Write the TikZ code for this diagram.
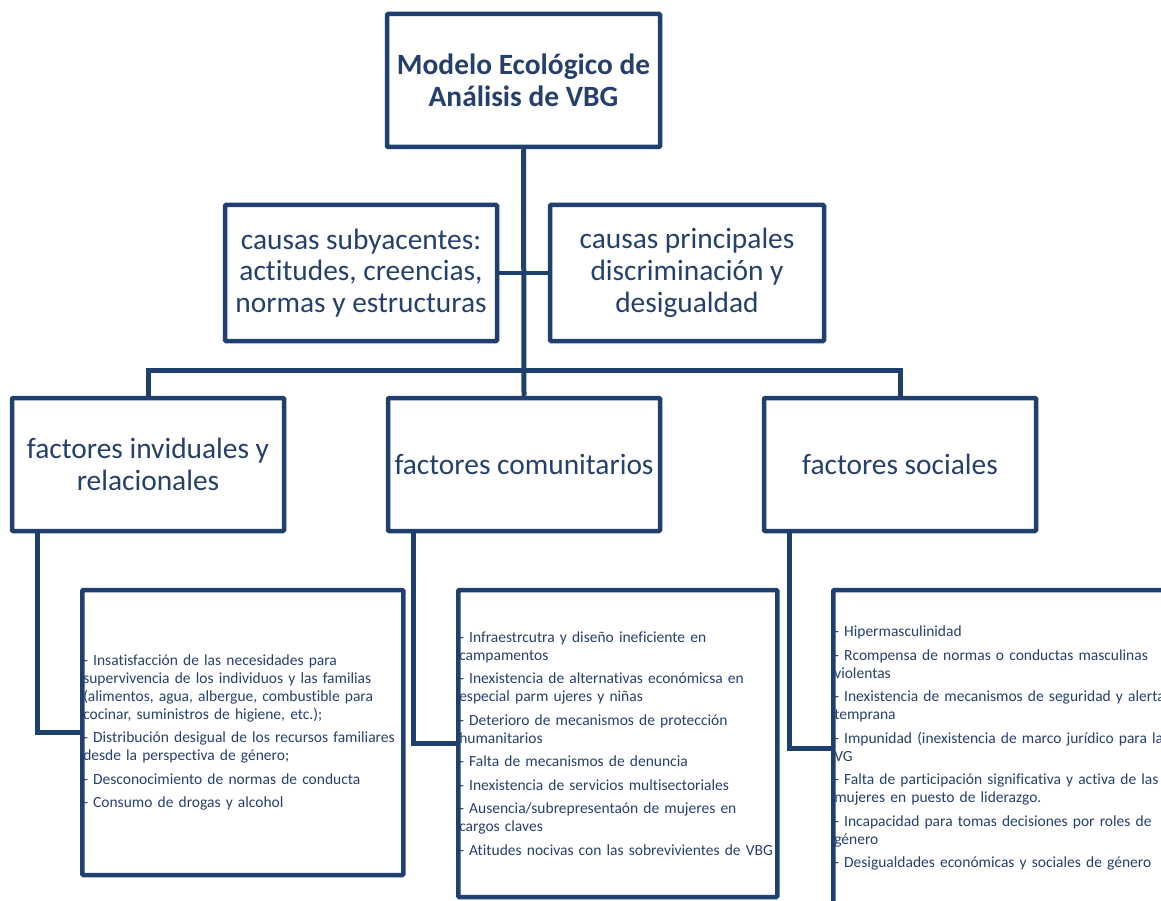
\documentclass[tikz,border=0pt]{standalone}
\usepackage{fontspec}
\setmainfont{Carlito}[Ligatures=NoCommon]
\usepackage{tikz}
\usetikzlibrary{positioning,calc}
\definecolor{vbglinea}{RGB}{31,63,110}
\definecolor{vbgtexto}{RGB}{38,64,108}

\begin{document}
\begin{tikzpicture}[x=1pt,y=-1pt,
  caja/.style={draw=vbglinea,line width=4.5pt,rounded corners=1pt,fill=white,text=vbgtexto,
    align=center,inner sep=0pt,font=\fontsize{29.4}{31.8}\selectfont},
  hoja/.style={draw=vbglinea,line width=4.5pt,rounded corners=1pt,fill=white,text=vbgtexto,
    align=left,anchor=west,inner xsep=1pt,inner ysep=0pt,font=\fontsize{15.5}{18}\selectfont},
  enlace/.style={draw=vbglinea,line width=5pt}]
\clip (0,0) rectangle (1161,901);
\fill[white] (0,0) rectangle (1161,901);

\node[caja,minimum width=273pt,minimum height=133pt,font=\bfseries\fontsize{29.4}{31.8}\selectfont] (modelo) at (523.5,80.5)
  {Modelo Ecológico de\\Análisis de VBG};
\node[caja,minimum width=272pt,minimum height=136pt] (subya) at (361,273)
  {causas subyacentes:\\actitudes, creencias,\\normas y estructuras};
\node[caja,minimum width=274pt,minimum height=136pt] (princ) at (687,273)
  {causas principales\\discriminación y\\desigualdad};

\node[caja,minimum width=272pt,minimum height=133pt] (indiv) at (148,464.5)
  {factores inviduales y\\relacionales};
\node[caja,minimum width=272pt,minimum height=133pt] (comun) at (524,464.5)
  {factores comunitarios};
\node[caja,minimum width=272pt,minimum height=133pt] (socia) at (900,464.5)
  {factores sociales};

\node[hoja,text width=319pt,minimum height=285pt] (hojaindiv) at (80,732.5)
  {- Insatisfacción de las necesidades para\\supervivencia de los individuos y las familias\\(alimentos, agua, albergue, combustible para\\cocinar, suministros de higiene, etc.);\\[5.5pt]
   - Distribución desigual de los recursos familiares\\desde la perspectiva de género;\\[5.5pt]
   - Desconocimiento de normas de conducta\\[5.5pt]
   - Consumo de drogas y alcohol};
\node[hoja,text width=317pt,minimum height=307pt] (hojacomun) at (456,743.5)
  {- Infraestrcutra y diseño ineficiente en\\campamentos\\[5.5pt]
   - Inexistencia de alternativas económicsa en\\especial parm ujeres y niñas\\[5.5pt]
   - Deterioro de mecanismos de protección\\humanitarios\\[5.5pt]
   - Falta de mecanismos de denuncia\\[5.5pt]
   - Inexistencia de servicios multisectoriales\\[5.5pt]
   - Ausencia/subrepresentaón de mujeres en\\cargos claves\\[5.5pt]
   - Atitudes nocivas con las sobrevivientes de VBG};
\node[hoja,text width=357pt,minimum height=316pt] (hojasocia) at (831,748)
  {- Hipermasculinidad\\[5.5pt]
   - Rcompensa de normas o conductas masculinas\\violentas\\[5.5pt]
   - Inexistencia de mecanismos de seguridad y alerta\\temprana\\[5.5pt]
   - Impunidad (inexistencia de marco jurídico para la\\VG\\[5.5pt]
   - Falta de participación significativa y activa de las\\mujeres en puesto de liderazgo.\\[5.5pt]
   - Incapacidad para tomas decisiones por roles de\\género\\[5.5pt]
   - Desigualdades económicas y sociales de género};

\coordinate (barra) at (523.5,370);
\draw[enlace] (modelo.south) -- (comun.north);
\draw[enlace] (indiv.north) |- (barra) -| (socia.north);
\draw[enlace,line width=4.5pt] (subya.east) -- (princ.west);
\draw[enlace] ([xshift=28pt]indiv.south west) |- (hojaindiv.west);
\draw[enlace] ([xshift=28pt]comun.south west) |- (hojacomun.west);
\draw[enlace] ([xshift=28pt]socia.south west) |- (hojasocia.west);
\end{tikzpicture}
\end{document}
